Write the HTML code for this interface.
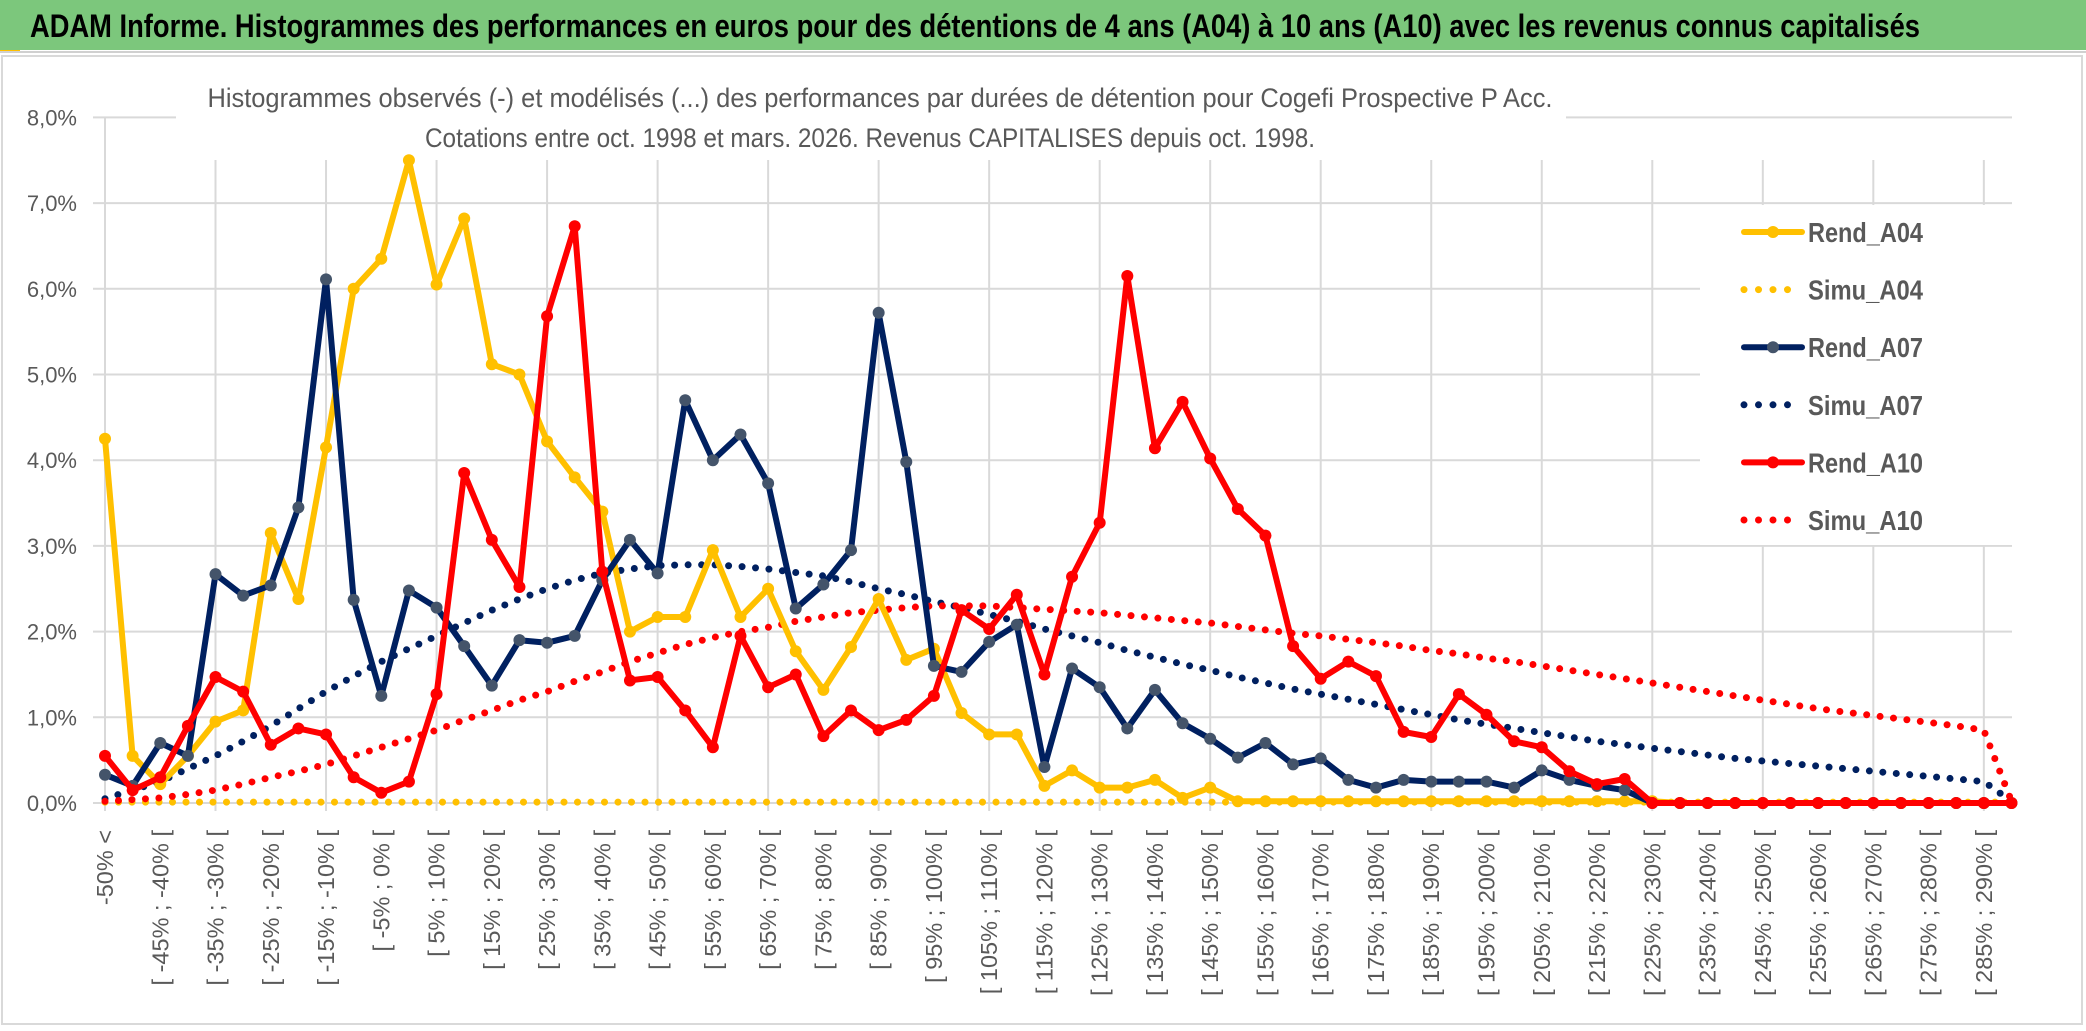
<!DOCTYPE html>
<html><head><meta charset="utf-8">
<style>
html,body{margin:0;padding:0;background:#fff;}
svg{display:block;font-family:"Liberation Sans Narrow","Liberation Sans",sans-serif;}
</style></head>
<body>
<svg id="chart" width="2086" height="1031" viewBox="0 0 2086 1031" xmlns="http://www.w3.org/2000/svg">
<rect x="0" y="0" width="2086" height="1031" fill="#fff"/>
<rect x="0" y="0" width="2086" height="50" fill="#7cc77c"/>
<rect x="0" y="50" width="20" height="3" fill="#ffc000"/>
<line x1="0" y1="52" x2="2086" y2="52" stroke="#d0d0d0" stroke-width="2"/>
<text x="30" y="37" font-size="32" font-weight="bold" fill="#000" textLength="1890" lengthAdjust="spacingAndGlyphs">ADAM Informe. Histogrammes des performances en euros pour des détentions de 4 ans (A04) à 10 ans (A10) avec les revenus connus capitalisés</text>
<rect x="2" y="56" width="2080" height="968" fill="none" stroke="#d9d9d9" stroke-width="2"/>
<g id="grid"></g>
<rect x="176" y="60" width="1390" height="99" fill="#fff"/>
<text x="880" y="107" font-size="27" fill="#595959" text-anchor="middle" textLength="1345" lengthAdjust="spacingAndGlyphs">Histogrammes observés (-) et modélisés (...) des performances par durées de détention pour Cogefi Prospective P Acc.</text>
<text x="870" y="147" font-size="27" fill="#595959" text-anchor="middle" textLength="890" lengthAdjust="spacingAndGlyphs">Cotations entre oct. 1998 et mars. 2026. Revenus CAPITALISES depuis oct. 1998.</text>
<g id="yaxis"></g>
<g id="xaxis"></g>
<g id="series"></g>
<g id="legend"></g>
</svg>
<script>
const categories = [];
for (let k = 0; k < 70; k++) {
  if (k === 0) categories.push("-50% <");
  else { const a = -55 + 5 * k; categories.push("[ " + a + "% ; " + (a + 5) + "% ["); }
}
const yTicks = [0,1,2,3,4,5,6,7,8];
const yTickLabels = ["0,0%","1,0%","2,0%","3,0%","4,0%","5,0%","6,0%","7,0%","8,0%"];
const rendA04 = [4.25,0.55,0.22,0.55,0.95,1.08,3.15,2.38,4.15,6.0,6.35,7.5,6.05,6.82,5.12,5.0,4.22,3.8,3.4,2.0,2.17,2.17,2.95,2.17,2.5,1.77,1.32,1.82,2.38,1.67,1.8,1.05,0.8,0.8,0.2,0.38,0.18,0.18,0.27,0.06,0.18,0.02,0.02,0.02,0.02,0.02,0.02,0.02,0.02,0.02,0.02,0.02,0.02,0.02,0.02,0.02,0.02,0,0,0,0,0,0,0,0,0,0,0,0,0];
const simuA04 = [0.01,0.01,0.01,0.01,0.01,0.01,0.01,0.01,0.01,0.01,0.01,0.01,0.01,0.01,0.01,0.01,0.01,0.01,0.01,0.01,0.01,0.01,0.01,0.01,0.01,0.01,0.01,0.01,0.01,0.01,0.01,0.01,0.01,0.01,0.01,0.01,0.01,0.01,0.01,0.01,0.01,0.01,0.01,0.01,0.01,0.01,0.01,0.01,0.01,0.01,0.01,0.01,0.01,0.01,0.01,0.01,0.01,0.01,0.01,0.01,0.01,0.01,0.01,0.01,0.01,0.01,0.01,0.01,0.01,0.01];
const rendA07 = [0.33,0.2,0.7,0.55,2.67,2.42,2.54,3.45,6.11,2.37,1.25,2.48,2.28,1.83,1.37,1.9,1.87,1.95,2.6,3.07,2.68,4.7,4.0,4.3,3.73,2.27,2.55,2.95,5.72,3.98,1.6,1.53,1.88,2.08,0.42,1.57,1.35,0.87,1.32,0.93,0.75,0.53,0.7,0.45,0.52,0.27,0.18,0.27,0.25,0.25,0.25,0.18,0.38,0.27,0.2,0.15,0,0,0,0,0,0,0,0,0,0,0,0,0,0];
const simuA07 = [0.05,0.15,0.25,0.4,0.55,0.72,0.9,1.1,1.3,1.48,1.65,1.8,1.95,2.1,2.25,2.38,2.5,2.6,2.68,2.73,2.77,2.78,2.78,2.76,2.73,2.69,2.65,2.58,2.5,2.43,2.35,2.28,2.2,2.12,2.03,1.95,1.87,1.78,1.7,1.62,1.55,1.47,1.4,1.33,1.27,1.21,1.15,1.09,1.03,0.97,0.92,0.87,0.82,0.77,0.72,0.68,0.64,0.6,0.56,0.52,0.49,0.46,0.43,0.4,0.37,0.34,0.31,0.28,0.25,0.02];
const rendA10 = [0.55,0.15,0.3,0.9,1.47,1.3,0.68,0.87,0.8,0.3,0.12,0.25,1.27,3.85,3.07,2.52,5.68,6.73,2.7,1.43,1.47,1.08,0.65,1.95,1.35,1.5,0.78,1.08,0.85,0.97,1.25,2.25,2.03,2.43,1.5,2.64,3.27,6.15,4.14,4.68,4.02,3.43,3.12,1.83,1.45,1.65,1.48,0.83,0.77,1.27,1.03,0.72,0.65,0.37,0.22,0.28,0,0,0,0,0,0,0,0,0,0,0,0,0,0];
const simuA10 = [0.02,0.04,0.06,0.1,0.15,0.22,0.3,0.37,0.45,0.55,0.65,0.75,0.85,0.97,1.08,1.2,1.3,1.42,1.53,1.65,1.75,1.85,1.93,2.0,2.05,2.12,2.17,2.22,2.25,2.28,2.3,2.3,2.3,2.28,2.26,2.24,2.22,2.19,2.16,2.13,2.1,2.06,2.02,1.98,1.95,1.91,1.87,1.83,1.78,1.74,1.69,1.65,1.6,1.55,1.5,1.45,1.4,1.35,1.3,1.25,1.2,1.15,1.1,1.06,1.02,0.98,0.94,0.9,0.85,0.02];
const legendLabels = ["Rend_A04","Simu_A04","Rend_A07","Simu_A07","Rend_A10","Simu_A10"];

const NS = "http://www.w3.org/2000/svg";
const X0 = 105, STEP = 27.63, Y0 = 803, YPER = 85.7;
function xPos(i){ return X0 + i * STEP; }
function yPos(v){ return Y0 - v * YPER; }
function mk(tag, attrs, parent){ const e = document.createElementNS(NS, tag); for (const k in attrs) e.setAttribute(k, attrs[k]); parent.appendChild(e); return e; }

const grid = document.getElementById('grid');
yTicks.forEach((t, i) => {
  const l = mk('line', {x1: X0 - 12, x2: 2012, y1: yPos(t), y2: yPos(t), stroke: '#d9d9d9', 'stroke-width': 2}, grid);
  
  
});
for (let i = 0; i < categories.length; i += 4) {
  const l = mk('line', {x1: xPos(i), x2: xPos(i), y1: i === 0 ? yPos(8) : 160, y2: Y0 + 8, stroke: '#d9d9d9', 'stroke-width': 2}, grid);
  
  
}
const yaxis = document.getElementById('yaxis');
yTicks.forEach((t, i) => {
  const tx = mk('text', {x: 77, y: yPos(t) + 8, 'font-size': 22, fill: '#595959', 'text-anchor': 'end'}, yaxis);
  tx.textContent = yTickLabels[i];
  
  
});
const xaxis = document.getElementById('xaxis');
categories.forEach((c, i) => {
  if (i % 2) return;
  const x = xPos(i) + 8, y = 830;
  const tx = mk('text', {x: x, y: y, 'font-size': 23.5, fill: '#595959', 'text-anchor': 'end', transform: 'rotate(-90 ' + x + ' ' + y + ')'}, xaxis);
  tx.textContent = c;
  
  
});

const series = document.getElementById('series');
function pts(arr){ return arr.map((v, i) => xPos(i).toFixed(1) + ',' + yPos(v).toFixed(1)).join(' '); }
function dotted(arr, color, name){
  const p = mk('polyline', {points: pts(arr), fill: 'none', stroke: color, 'stroke-width': 7, 'stroke-linecap': 'round', 'stroke-dasharray': '0 13.5'}, series);
  
  
}
function solid(arr, color, markerColor, name){
  const p = mk('polyline', {points: pts(arr), fill: 'none', stroke: color, 'stroke-width': 6, 'stroke-linejoin': 'round'}, series);
  
  
  arr.forEach((v, i) => {
    const c = mk('circle', {cx: xPos(i), cy: yPos(v), r: 6, fill: markerColor}, series);
    
    
  });
}
dotted(simuA04, '#ffc000', 'simu-a04-line');
dotted(simuA07, '#002060', 'simu-a07-line');
dotted(simuA10, '#ff0000', 'simu-a10-line');
solid(rendA04, '#ffc000', '#ffc000', 'rend-a04-line');
solid(rendA07, '#002060', '#44546a', 'rend-a07-line');
solid(rendA10, '#ff0000', '#ff0000', 'rend-a10-line');

const legend = document.getElementById('legend');
const bg = mk('rect', {x: 1700, y: 205, width: 312, height: 340, fill: '#fff'}, legend);


const lColors = ['#ffc000','#ffc000','#002060','#002060','#ff0000','#ff0000'];
const lMarkers = ['#ffc000',null,'#44546a',null,'#ff0000',null];
legendLabels.forEach((lab, i) => {
  const y = 232 + i * 57.6;
  const g = mk('g', {}, legend);
  
  
  if (lMarkers[i]) {
    mk('line', {x1: 1744, x2: 1802, y1: y, y2: y, stroke: lColors[i], 'stroke-width': 6, 'stroke-linecap': 'round'}, g);
    mk('circle', {cx: 1773, cy: y, r: 6, fill: lMarkers[i]}, g);
  } else {
    mk('line', {x1: 1744, x2: 1802, y1: y, y2: y, stroke: lColors[i], 'stroke-width': 7, 'stroke-linecap': 'round', 'stroke-dasharray': '0 14.5'}, g);
  }
  const t = mk('text', {x: 1808, y: y + 10, 'font-size': 28, 'font-weight': 'bold', fill: '#595959', textLength: 115, lengthAdjust: 'spacingAndGlyphs'}, g);
  t.textContent = lab;
});
</script>
</body></html>
